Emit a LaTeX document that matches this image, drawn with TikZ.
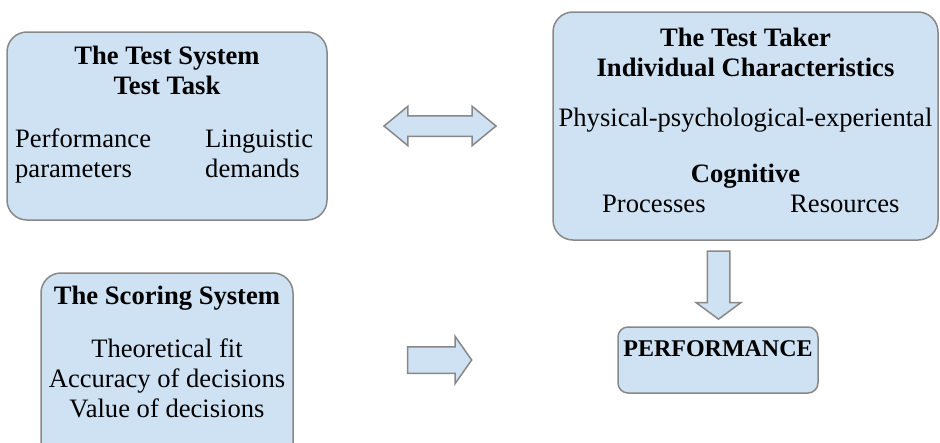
\documentclass[tikz,border=0pt]{standalone}
\usepackage{fontspec}
\setmainfont{Liberation Serif}
\usetikzlibrary{shapes.arrows, calc}
\definecolor{paleblue}{HTML}{CFE2F3}
\definecolor{edgegray}{HTML}{888888}

\begin{document}
\begin{tikzpicture}[x=1pt, y=-1pt,
  every node/.style={font=\fontsize{26.6}{30}\selectfont},
  block/.style={draw=edgegray, fill=paleblue, line width=1.5pt, rounded corners=20pt, inner sep=0pt},
  txt/.style={inner sep=0pt, anchor=base},
  hd/.style={txt, font=\fontsize{26.6}{30}\selectfont\bfseries},
  blockarrow/.style={draw=edgegray, fill=paleblue, line width=1.5pt, inner xsep=0pt}]
  \useasboundingbox (0,0) rectangle (940,442);
  \clip (0,0) rectangle (940,442);

  % boxes
  \node[block, minimum width=320pt, minimum height=188pt] (sys) at (167,126) {};
  \node[block, minimum width=385pt, minimum height=228pt] (taker) at (745.5,126) {};
  \node[block, minimum width=252pt, minimum height=200pt] (score) at (167,373) {};
  \node[block, rounded corners=10pt, minimum width=200pt, minimum height=66pt] (perf) at (718,360) {};

  % the test system
  \node[hd] (sysA) at (167,64) {The Test System};
  \node[hd] (sysB) at (167,94) {Test Task};
  \node[txt, anchor=base west] (perfpar) at (15,147) {Performance};
  \node[txt, anchor=base west] (perfpar2) at (15,177) {parameters};
  \node[txt, anchor=base west] (ling) at (205,147) {Linguistic};
  \node[txt, anchor=base west] (ling2) at (205,177) {demands};

  % the test taker
  \node[hd] (takerA) at (745.5,46) {The Test Taker};
  \node[hd] (takerB) at (745.5,76) {Individual Characteristics};
  \node[txt] (phys) at (745.5,126) {Physical-psychological-experiental};
  \node[hd] (cogn) at (745.5,182) {Cognitive};
  \node[txt, anchor=base west] (proc) at (602,212) {Processes};
  \node[txt, anchor=base west] (res) at (790,212) {Resources};

  % the scoring system
  \node[hd] (scoreA) at (167,304) {The Scoring System};
  \foreach \t [count=\i] in {Theoretical fit, Accuracy of decisions, Value of decisions}
    \node[txt] (crit\i) at (167,327+30*\i) {\t};

  \node[hd, font=\fontsize{24}{28}\selectfont\bfseries] (perfT) at (718,356) {PERFORMANCE};

  % block arrows
  \node[blockarrow, double arrow, inner ysep=9.5pt, double arrow head extend=9.5pt,
    double arrow tip angle=79, minimum height=112pt]
    (both) at ($(sys.east)!0.5!(taker.west)$) {};
  \node[blockarrow, single arrow, inner ysep=10.5pt, single arrow head extend=11pt,
    single arrow tip angle=107, minimum height=68pt, rotate=-90]
    (down) at (718.5,281) {};
  \node[blockarrow, single arrow, inner ysep=12.5pt, single arrow head extend=10.5pt,
    single arrow tip angle=110, minimum height=64pt]
    (right) at (435,360) {};
\end{tikzpicture}
\end{document}
